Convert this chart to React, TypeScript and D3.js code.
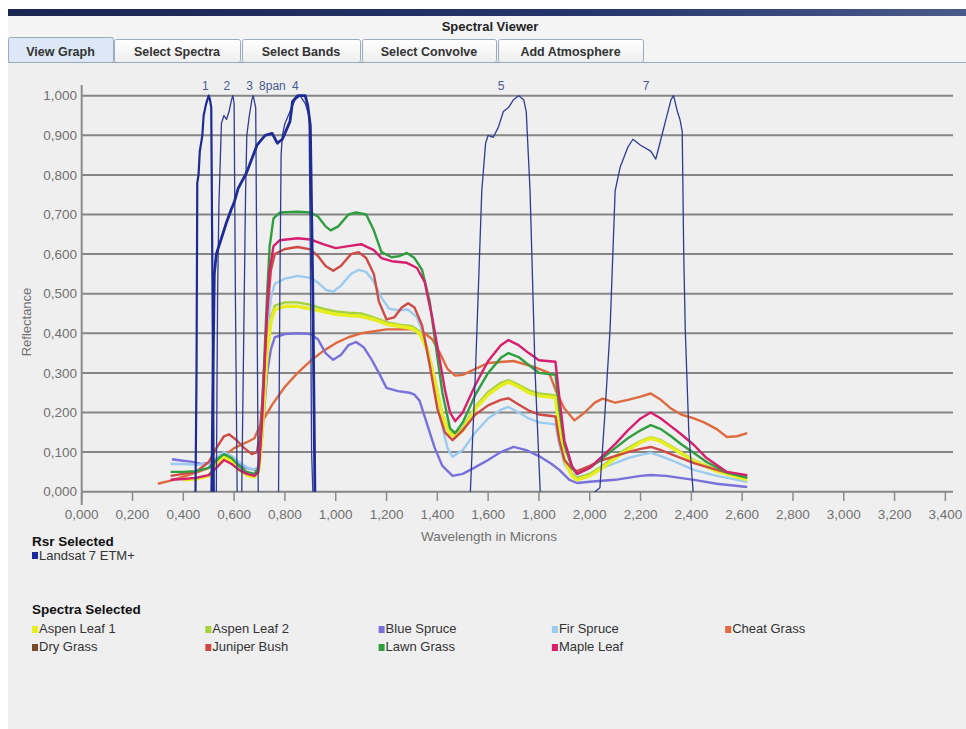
import React from "react";
import * as d3 from "d3";

type P = [number, number];

// ---------- axis ticks ----------
const xTicks = [0, 0.2, 0.4, 0.6, 0.8, 1.0, 1.2, 1.4, 1.6, 1.8, 2.0, 2.2, 2.4, 2.6, 2.8, 3.0, 3.2, 3.4];
const yTicks = [0, 0.1, 0.2, 0.3, 0.4, 0.5, 0.6, 0.7, 0.8, 0.9, 1.0];

// ---------- tabs ----------
const tabLabels = ["View Graph", "Select Spectra", "Select Bands", "Select Convolve", "Add Atmosphere"];

// ---------- Landsat 7 ETM+ relative spectral response (wavelength µm, response) ----------
const band1: P[] = [[0.448, 0], [0.452, 0.3], [0.455, 0.78], [0.46, 0.8], [0.465, 0.86], [0.475, 0.9], [0.48, 0.95], [0.49, 0.98], [0.5, 1.0], [0.505, 0.99], [0.51, 0.97], [0.515, 0.5], [0.52, 0]];
const band2: P[] = [[0.53, 0], [0.535, 0.5], [0.54, 0.72], [0.55, 0.93], [0.56, 0.95], [0.57, 0.94], [0.58, 0.96], [0.59, 0.99], [0.595, 1.0], [0.6, 0.98], [0.605, 0.5], [0.612, 0]];
const band3: P[] = [[0.63, 0], [0.64, 0.5], [0.645, 0.75], [0.65, 0.9], [0.66, 0.95], [0.67, 0.99], [0.675, 1.0], [0.685, 0.97], [0.69, 0.5], [0.695, 0]];
const band4: P[] = [[0.775, 0], [0.78, 0.5], [0.785, 0.85], [0.79, 0.9], [0.8, 0.93], [0.82, 0.96], [0.84, 0.99], [0.86, 1.0], [0.88, 0.98], [0.895, 0.95], [0.9, 0.6], [0.905, 0.1], [0.91, 0]];
const band5: P[] = [[1.53, 0], [1.55, 0.3], [1.575, 0.76], [1.59, 0.88], [1.6, 0.9], [1.62, 0.895], [1.64, 0.92], [1.66, 0.96], [1.68, 0.97], [1.7, 0.99], [1.72, 1.0], [1.74, 0.99], [1.75, 0.96], [1.765, 0.76], [1.785, 0.3], [1.805, 0]];
const band7: P[] = [[2.02, 0], [2.04, 0.01], [2.06, 0.2], [2.08, 0.41], [2.1, 0.76], [2.12, 0.82], [2.15, 0.87], [2.17, 0.89], [2.2, 0.875], [2.24, 0.86], [2.26, 0.84], [2.28, 0.89], [2.3, 0.94], [2.32, 0.99], [2.33, 1.0], [2.345, 0.96], [2.355, 0.94], [2.364, 0.91], [2.37, 0.6], [2.376, 0.41], [2.39, 0.15], [2.407, 0]];
const band8pan: P[] = [[0.512, 0], [0.518, 0.35], [0.522, 0.55], [0.53, 0.6], [0.55, 0.64], [0.57, 0.68], [0.59, 0.715], [0.6, 0.73], [0.616, 0.766], [0.65, 0.807], [0.69, 0.875], [0.722, 0.9], [0.75, 0.905], [0.77, 0.88], [0.79, 0.89], [0.81, 0.92], [0.82, 0.935], [0.83, 0.985], [0.85, 1.0], [0.88, 1.0], [0.89, 0.975], [0.9, 0.925], [0.91, 0.5], [0.918, 0]];
const bandLabels = ["1", "2", "3", "8pan", "4", "5", "7"];
const bandCenters = [0.485, 0.57, 0.66, 0.71, 0.84, 1.65, 2.22];

// ---------- spectra (wavelength µm, reflectance) ----------
const aspenLeaf1: P[] = [[0.40, 0.03], [0.45, 0.032], [0.50, 0.04], [0.53, 0.065], [0.56, 0.088], [0.59, 0.075], [0.62, 0.055], [0.65, 0.042], [0.68, 0.037], [0.695, 0.05], [0.70, 0.07], [0.71, 0.15], [0.72, 0.25], [0.73, 0.35], [0.745, 0.43], [0.76, 0.46], [0.8, 0.468], [0.85, 0.468], [0.9, 0.462], [0.95, 0.455], [1.0, 0.448], [1.05, 0.445], [1.1, 0.443], [1.15, 0.435], [1.2, 0.423], [1.25, 0.418], [1.3, 0.412], [1.33, 0.4], [1.36, 0.36], [1.39, 0.28], [1.42, 0.19], [1.45, 0.145], [1.47, 0.138], [1.5, 0.155], [1.55, 0.21], [1.6, 0.245], [1.65, 0.268], [1.68, 0.277], [1.72, 0.265], [1.76, 0.25], [1.8, 0.242], [1.865, 0.238], [1.88, 0.16], [1.9, 0.08], [1.93, 0.04], [1.95, 0.03], [2.0, 0.04], [2.05, 0.06], [2.1, 0.085], [2.15, 0.105], [2.2, 0.125], [2.24, 0.135], [2.28, 0.127], [2.32, 0.112], [2.41, 0.077], [2.5, 0.052], [2.62, 0.03]];
const aspenLeaf2: P[] = [[0.40, 0.03], [0.45, 0.033], [0.50, 0.042], [0.53, 0.07], [0.56, 0.092], [0.59, 0.078], [0.62, 0.058], [0.65, 0.045], [0.68, 0.04], [0.695, 0.052], [0.70, 0.075], [0.71, 0.16], [0.72, 0.26], [0.73, 0.36], [0.745, 0.44], [0.76, 0.47], [0.8, 0.478], [0.85, 0.478], [0.9, 0.472], [0.95, 0.462], [1.0, 0.455], [1.05, 0.452], [1.1, 0.45], [1.15, 0.44], [1.2, 0.428], [1.25, 0.422], [1.3, 0.418], [1.33, 0.405], [1.36, 0.365], [1.39, 0.285], [1.42, 0.195], [1.45, 0.15], [1.47, 0.143], [1.5, 0.162], [1.55, 0.215], [1.6, 0.252], [1.65, 0.275], [1.68, 0.282], [1.72, 0.27], [1.76, 0.256], [1.8, 0.248], [1.865, 0.243], [1.88, 0.165], [1.9, 0.085], [1.93, 0.045], [1.95, 0.034], [2.0, 0.045], [2.05, 0.065], [2.1, 0.09], [2.15, 0.11], [2.2, 0.128], [2.24, 0.138], [2.28, 0.13], [2.32, 0.115], [2.41, 0.08], [2.5, 0.055], [2.62, 0.033]];
const blueSpruce: P[] = [[0.355, 0.082], [0.40, 0.078], [0.43, 0.076], [0.47, 0.07], [0.50, 0.072], [0.53, 0.08], [0.56, 0.088], [0.59, 0.08], [0.62, 0.068], [0.65, 0.06], [0.68, 0.055], [0.695, 0.06], [0.70, 0.08], [0.71, 0.14], [0.72, 0.22], [0.73, 0.3], [0.745, 0.36], [0.76, 0.39], [0.8, 0.398], [0.85, 0.4], [0.9, 0.398], [0.93, 0.385], [0.96, 0.35], [0.99, 0.333], [1.02, 0.345], [1.05, 0.37], [1.08, 0.378], [1.11, 0.365], [1.14, 0.335], [1.17, 0.3], [1.2, 0.262], [1.245, 0.254], [1.29, 0.25], [1.31, 0.245], [1.33, 0.23], [1.36, 0.17], [1.39, 0.11], [1.42, 0.065], [1.46, 0.04], [1.5, 0.045], [1.55, 0.062], [1.6, 0.08], [1.65, 0.1], [1.7, 0.113], [1.75, 0.105], [1.8, 0.09], [1.85, 0.07], [1.88, 0.055], [1.92, 0.03], [1.95, 0.022], [2.0, 0.025], [2.1, 0.03], [2.2, 0.04], [2.24, 0.042], [2.3, 0.04], [2.41, 0.03], [2.5, 0.02], [2.62, 0.012]];
const firSpruce: P[] = [[0.35, 0.07], [0.40, 0.07], [0.45, 0.068], [0.50, 0.07], [0.53, 0.085], [0.56, 0.1], [0.59, 0.09], [0.62, 0.075], [0.65, 0.062], [0.68, 0.055], [0.695, 0.065], [0.70, 0.09], [0.71, 0.17], [0.72, 0.28], [0.73, 0.4], [0.745, 0.49], [0.76, 0.525], [0.8, 0.538], [0.85, 0.545], [0.9, 0.54], [0.93, 0.528], [0.96, 0.51], [0.99, 0.505], [1.02, 0.52], [1.06, 0.55], [1.09, 0.56], [1.12, 0.555], [1.15, 0.53], [1.18, 0.49], [1.21, 0.462], [1.25, 0.458], [1.285, 0.46], [1.32, 0.44], [1.35, 0.39], [1.38, 0.3], [1.41, 0.19], [1.44, 0.11], [1.46, 0.088], [1.5, 0.105], [1.55, 0.15], [1.6, 0.185], [1.65, 0.207], [1.68, 0.214], [1.72, 0.2], [1.76, 0.185], [1.8, 0.175], [1.865, 0.17], [1.88, 0.12], [1.9, 0.07], [1.93, 0.045], [1.95, 0.037], [2.0, 0.045], [2.05, 0.06], [2.1, 0.072], [2.15, 0.085], [2.2, 0.093], [2.24, 0.098], [2.28, 0.09], [2.32, 0.08], [2.41, 0.055], [2.5, 0.04], [2.62, 0.025]];
const cheatGrass: P[] = [[0.30, 0.02], [0.35, 0.028], [0.40, 0.038], [0.45, 0.048], [0.50, 0.06], [0.55, 0.085], [0.60, 0.11], [0.65, 0.125], [0.68, 0.135], [0.70, 0.165], [0.75, 0.22], [0.80, 0.265], [0.85, 0.30], [0.90, 0.33], [0.95, 0.355], [1.00, 0.375], [1.05, 0.39], [1.10, 0.40], [1.20, 0.41], [1.30, 0.41], [1.35, 0.40], [1.38, 0.385], [1.41, 0.35], [1.44, 0.31], [1.47, 0.293], [1.50, 0.295], [1.55, 0.31], [1.60, 0.325], [1.70, 0.33], [1.78, 0.315], [1.84, 0.3], [1.87, 0.25], [1.9, 0.21], [1.94, 0.18], [1.98, 0.2], [2.02, 0.225], [2.05, 0.235], [2.1, 0.225], [2.15, 0.232], [2.2, 0.24], [2.24, 0.248], [2.28, 0.232], [2.32, 0.21], [2.36, 0.195], [2.41, 0.185], [2.45, 0.175], [2.5, 0.158], [2.54, 0.138], [2.58, 0.14], [2.62, 0.148]];
const juniperBush: P[] = [[0.35, 0.04], [0.40, 0.045], [0.45, 0.05], [0.50, 0.075], [0.53, 0.11], [0.56, 0.14], [0.58, 0.145], [0.61, 0.13], [0.64, 0.11], [0.67, 0.095], [0.69, 0.10], [0.70, 0.14], [0.71, 0.22], [0.72, 0.33], [0.73, 0.45], [0.745, 0.56], [0.76, 0.6], [0.8, 0.613], [0.85, 0.618], [0.9, 0.612], [0.93, 0.595], [0.96, 0.57], [0.99, 0.558], [1.02, 0.57], [1.06, 0.6], [1.09, 0.605], [1.12, 0.59], [1.15, 0.55], [1.17, 0.48], [1.2, 0.435], [1.23, 0.44], [1.26, 0.465], [1.285, 0.476], [1.31, 0.465], [1.34, 0.42], [1.37, 0.32], [1.4, 0.21], [1.43, 0.15], [1.46, 0.13], [1.5, 0.155], [1.55, 0.195], [1.6, 0.218], [1.65, 0.232], [1.68, 0.236], [1.72, 0.22], [1.76, 0.205], [1.8, 0.195], [1.865, 0.19], [1.88, 0.13], [1.9, 0.08], [1.93, 0.058], [1.95, 0.052], [2.0, 0.065], [2.05, 0.08], [2.1, 0.09], [2.15, 0.1], [2.2, 0.108], [2.24, 0.113], [2.28, 0.105], [2.32, 0.095], [2.41, 0.072], [2.5, 0.055], [2.56, 0.045], [2.62, 0.04]];
const lawnGrass: P[] = [[0.35, 0.05], [0.40, 0.05], [0.45, 0.052], [0.50, 0.06], [0.53, 0.08], [0.56, 0.095], [0.59, 0.085], [0.62, 0.065], [0.65, 0.05], [0.68, 0.045], [0.695, 0.06], [0.70, 0.09], [0.71, 0.2], [0.72, 0.35], [0.73, 0.5], [0.74, 0.62], [0.755, 0.69], [0.78, 0.705], [0.85, 0.707], [0.9, 0.705], [0.93, 0.695], [0.96, 0.67], [0.98, 0.66], [1.01, 0.67], [1.05, 0.7], [1.08, 0.705], [1.12, 0.7], [1.15, 0.66], [1.18, 0.605], [1.22, 0.592], [1.25, 0.595], [1.28, 0.603], [1.31, 0.59], [1.34, 0.56], [1.37, 0.48], [1.4, 0.34], [1.42, 0.25], [1.45, 0.16], [1.47, 0.148], [1.5, 0.175], [1.55, 0.245], [1.6, 0.3], [1.65, 0.338], [1.68, 0.35], [1.72, 0.34], [1.76, 0.32], [1.8, 0.3], [1.865, 0.295], [1.88, 0.21], [1.9, 0.12], [1.93, 0.06], [1.95, 0.045], [2.0, 0.06], [2.05, 0.085], [2.1, 0.11], [2.15, 0.135], [2.2, 0.155], [2.24, 0.168], [2.28, 0.158], [2.32, 0.14], [2.36, 0.12], [2.41, 0.098], [2.46, 0.075], [2.54, 0.048], [2.62, 0.035]];
const mapleLeaf: P[] = [[0.35, 0.03], [0.40, 0.032], [0.45, 0.035], [0.50, 0.042], [0.53, 0.06], [0.56, 0.08], [0.59, 0.07], [0.62, 0.055], [0.65, 0.045], [0.68, 0.04], [0.695, 0.05], [0.70, 0.08], [0.71, 0.18], [0.72, 0.32], [0.73, 0.46], [0.74, 0.56], [0.755, 0.62], [0.78, 0.635], [0.85, 0.64], [0.9, 0.637], [0.95, 0.625], [1.0, 0.615], [1.05, 0.62], [1.1, 0.625], [1.15, 0.61], [1.18, 0.59], [1.22, 0.582], [1.28, 0.578], [1.32, 0.565], [1.35, 0.53], [1.38, 0.44], [1.41, 0.33], [1.43, 0.257], [1.45, 0.2], [1.47, 0.178], [1.5, 0.2], [1.55, 0.27], [1.6, 0.33], [1.65, 0.37], [1.68, 0.383], [1.72, 0.37], [1.76, 0.35], [1.8, 0.332], [1.865, 0.328], [1.88, 0.24], [1.9, 0.13], [1.93, 0.065], [1.95, 0.045], [2.0, 0.06], [2.05, 0.09], [2.1, 0.12], [2.15, 0.155], [2.2, 0.185], [2.24, 0.2], [2.28, 0.185], [2.32, 0.165], [2.36, 0.145], [2.41, 0.118], [2.46, 0.085], [2.54, 0.05], [2.62, 0.042]];

// ---------- legend ----------
const spectraNames = ["Aspen Leaf 1", "Aspen Leaf 2", "Blue Spruce", "Fir Spruce", "Cheat Grass", "Dry Grass", "Juniper Bush", "Lawn Grass", "Maple Leaf"];
const spectraColors = ["#e6ee22", "#a6d03c", "#7a70dc", "#9ccbee", "#e06a40", "#7a4a2c", "#cf4a44", "#2f9e3e", "#d6206e"];
const rsrNames = ["Landsat 7 ETM+"];

const spectraSeries: { name: string; data: P[] }[] = [
  { name: "Cheat Grass", data: cheatGrass },
  { name: "Blue Spruce", data: blueSpruce },
  { name: "Fir Spruce", data: firSpruce },
  { name: "Aspen Leaf 2", data: aspenLeaf2 },
  { name: "Aspen Leaf 1", data: aspenLeaf1 },
  { name: "Juniper Bush", data: juniperBush },
  { name: "Lawn Grass", data: lawnGrass },
  { name: "Maple Leaf", data: mapleLeaf },
];
const bandSeries: { data: P[]; w: number }[] = [
  { data: band2, w: 1.3 },
  { data: band3, w: 1.3 },
  { data: band4, w: 1.3 },
  { data: band5, w: 1.3 },
  { data: band7, w: 1.3 },
  { data: band1, w: 2.2 },
  { data: band8pan, w: 2.8 },
];

const fmt = (v: number) => d3.format(".3f")(v).replace(".", ",");
const FONT = '"Liberation Sans", Arial, sans-serif';

export default function App() {
  const x = d3.scaleLinear().domain([0, 3.43]).range([81.7, 953]);
  const y = d3.scaleLinear().domain([0, 1]).range([491.7, 95.7]);
  const line = d3.line<P>().x((d) => x(d[0])).y((d) => y(d[1]));
  const colorOf = (n: string) => spectraColors[spectraNames.indexOf(n)];

  // tab geometry
  const tabX = [8, 114, 242, 362, 498];
  const tabW = [105, 126, 118, 134, 145];

  return (
    <svg
      width={966}
      height={729}
      style={{ position: "absolute", left: 0, top: 0, fontFamily: FONT }}
    >
      <defs>
        <linearGradient id="titlebar" x1="0" x2="1" y1="0" y2="0">
          <stop offset="0" stopColor="#1a2550" />
          <stop offset="0.6" stopColor="#26356a" />
          <stop offset="1" stopColor="#4a5a88" />
        </linearGradient>
        <linearGradient id="tabg" x1="0" x2="0" y1="0" y2="1">
          <stop offset="0" stopColor="#ffffff" />
          <stop offset="1" stopColor="#eeeeee" />
        </linearGradient>
      </defs>
      <rect x={0} y={0} width={966} height={729} fill="#ffffff" />
      <rect x={8} y={9} width={958} height={720} fill="#efefef" />
      <rect x={8} y={9} width={958} height={7} fill="url(#titlebar)" />
      <rect x={8} y={16} width={958} height={46} fill="#f4f4f4" />
      <text x={490} y={31} textAnchor="middle" fontSize={13} fontWeight="bold" fill="#222">
        Spectral Viewer
      </text>

      {/* tabs */}
      {tabLabels.map((t, i) => (
        <g key={t}>
          <rect
            x={tabX[i] + 0.5}
            y={i === 0 ? 37.5 : 39.5}
            width={tabW[i]}
            height={i === 0 ? 25 : 23}
            rx={2}
            fill={i === 0 ? "#dce8f5" : "url(#tabg)"}
            stroke="#9aabc0"
          />
          <text
            x={tabX[i] + tabW[i] / 2}
            y={56}
            textAnchor="middle"
            fontSize={12.5}
            fontWeight="bold"
            fill="#333"
          >
            {t}
          </text>
        </g>
      ))}
      <line x1={8} x2={966} y1={62.5} y2={62.5} stroke="#9aabc0" />

      {/* grid */}
      {yTicks.map((t) => (
        <g key={"y" + t}>
          <line x1={x(0)} x2={953} y1={y(t)} y2={y(t)} stroke="#868686" strokeWidth={2} />
          <text x={77} y={y(t)} dy="0.35em" textAnchor="end" fontSize={13.5} fill="#707070">
            {fmt(t)}
          </text>
        </g>
      ))}
      <line x1={x(0)} x2={x(0)} y1={85} y2={505} stroke="#8c8c8c" strokeWidth={2} />
      {xTicks.map((t) => (
        <g key={"x" + t}>
          <line x1={x(t)} x2={x(t)} y1={492} y2={501} stroke="#8c8c8c" strokeWidth={1.5} />
          <text x={x(t)} y={519} textAnchor="middle" fontSize={13.5} fill="#707070">
            {fmt(t)}
          </text>
        </g>
      ))}
      <text x={489} y={541} textAnchor="middle" fontSize={13.5} fill="#707070">
        Wavelength in Microns
      </text>
      <text
        transform="translate(31,322) rotate(-90)"
        textAnchor="middle"
        fontSize={13}
        fill="#707070"
      >
        Reflectance
      </text>

      {/* spectra */}
      {spectraSeries.map((s) => (
        <path
          key={s.name}
          d={line(s.data) || ""}
          fill="none"
          stroke={colorOf(s.name)}
          strokeWidth={s.name === "Aspen Leaf 1" ? 3.5 : 2.4}
          strokeLinejoin="round"
        />
      ))}

      {/* Landsat bands */}
      {bandSeries.map((b, i) => (
        <path
          key={"b" + i}
          d={line(b.data) || ""}
          fill="none"
          stroke={b.w > 2 ? "#1d2b94" : "#2f3c92"}
          strokeWidth={b.w}
          strokeLinejoin="round"
        />
      ))}
      {bandLabels.map((l, i) => (
        <text key={l} x={x(bandCenters[i]) - 3} y={90} fontSize={12} fill="#4a5894">
          {l}
        </text>
      ))}

      {/* legend */}
      <text x={32} y={546} fontSize={13.5} fontWeight="bold" fill="#111">
        Rsr Selected
      </text>
      {rsrNames.map((n, i) => (
        <g key={n}>
          <rect x={32} y={552 + i * 17} width={6} height={7} fill="#1a2a9a" />
          <text x={39} y={560 + i * 17} fontSize={13} fill="#333">
            {n}
          </text>
        </g>
      ))}
      <text x={32} y={614} fontSize={13.5} fontWeight="bold" fill="#111">
        Spectra Selected
      </text>
      {spectraNames.map((n, i) => {
        const col = i % 5;
        const row = Math.floor(i / 5);
        const lx = 32 + col * 173.3;
        const ly = 633 + row * 18;
        return (
          <g key={n}>
            <rect x={lx} y={ly - 7} width={6} height={7} fill={spectraColors[i]} />
            <text x={lx + 7} y={ly} fontSize={13} fill="#333">
              {n}
            </text>
          </g>
        );
      })}
    </svg>
  );
}
